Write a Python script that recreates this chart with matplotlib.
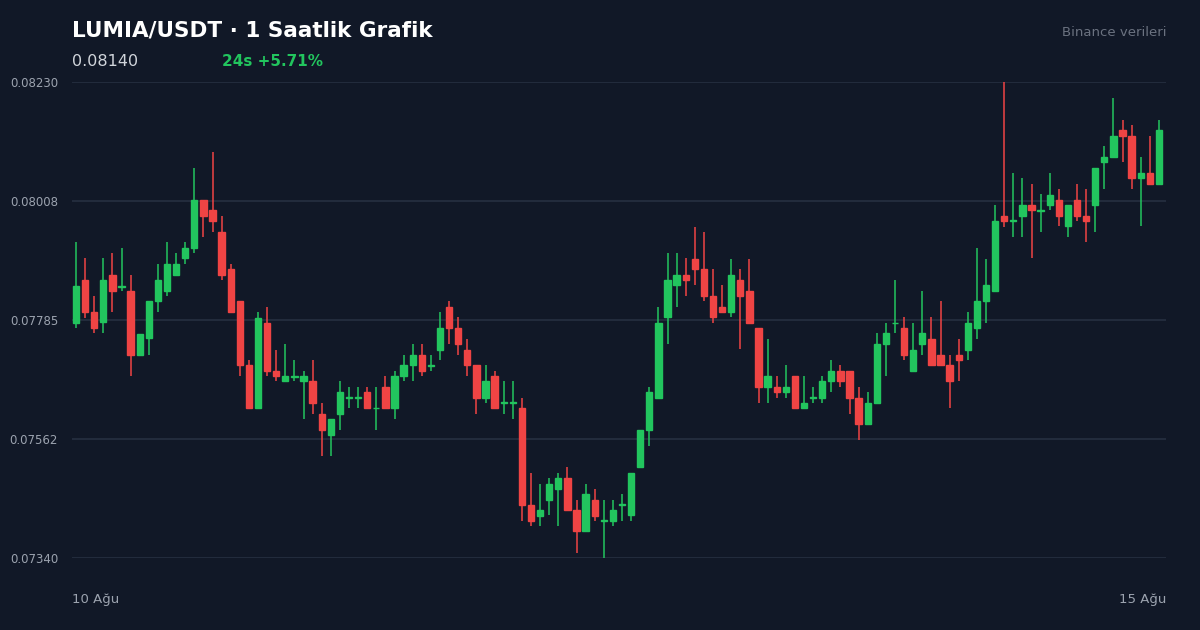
import matplotlib
matplotlib.use('Agg')
import matplotlib.pyplot as plt
from matplotlib.patches import Rectangle

opens = [.07779, .07860, .07800, .07781, .07869, .07846, .07839, .07719, .07751, .07820,
         .07839, .07869, .07901, .07920, .08009, .07991, .07950, .07880, .07820, .07701,
         .07620, .07779, .07690, .07671, .07678, .07671, .07671, .07609, .07570, .07609,
         .07639, .07639, .07650, .07620, .07660, .07620, .07680, .07701, .07719, .07699,
         .07729, .07809, .07770, .07729, .07701, .07639, .07680, .07630, .07630, .07620,
         .07439, .07418, .07448, .07469, .07490, .07430, .07390, .07448, .07409, .07409,
         .07439, .07420, .07510, .07579, .07639, .07791, .07850, .07869, .07899, .07880,
         .07830, .07809, .07800, .07860, .07839, .07770, .07660, .07660, .07650, .07680,
         .07620, .07639, .07639, .07671, .07690, .07690, .07639, .07590, .07630, .07740,
         .07779, .07770, .07690, .07740, .07750, .07719, .07701, .07719, .07729, .07770,
         .07820, .07839, .07980, .07970, .07980, .08000, .07989, .08000, .08009, .07961,
         .08009, .07980, .08000, .08080, .08090, .08140, .08129, .08050, .08060, .08039]
highs = [.07931, .07901, .07830, .07901, .07910, .07920, .07869, .07759, .07820, .07890,
         .07931, .07910, .07931, .08069, .08009, .08099, .07980, .07890, .07820, .07710,
         .07800, .07809, .07729, .07740, .07710, .07690, .07710, .07630, .07600, .07671,
         .07660, .07660, .07660, .07660, .07680, .07690, .07719, .07740, .07740, .07719,
         .07800, .07820, .07791, .07750, .07701, .07701, .07690, .07671, .07671, .07639,
         .07499, .07478, .07490, .07499, .07510, .07448, .07478, .07469, .07448, .07448,
         .07460, .07499, .07579, .07660, .07809, .07910, .07910, .07901, .07959, .07950,
         .07880, .07850, .07899, .07880, .07899, .07770, .07750, .07680, .07701, .07680,
         .07680, .07660, .07680, .07710, .07701, .07690, .07660, .07650, .07761, .07779,
         .07860, .07791, .07779, .07839, .07791, .07820, .07719, .07750, .07800, .07920,
         .07899, .08000, .08230, .08060, .08050, .08039, .08021, .08060, .08030, .08000,
         .08039, .08030, .08069, .08110, .08200, .08159, .08150, .08090, .08129, .08159]
lows = [.07770, .07789, .07761, .07761, .07800, .07839, .07680, .07719, .07719, .07800,
        .07830, .07869, .07890, .07910, .07940, .07950, .07860, .07800, .07680, .07620,
        .07620, .07680, .07671, .07671, .07671, .07600, .07609, .07531, .07531, .07579,
        .07620, .07620, .07620, .07579, .07620, .07600, .07671, .07671, .07680, .07690,
        .07710, .07740, .07719, .07680, .07609, .07630, .07620, .07609, .07600, .07409,
        .07400, .07400, .07420, .07400, .07430, .07349, .07390, .07409, .07340, .07400,
        .07409, .07409, .07510, .07549, .07639, .07740, .07809, .07830, .07850, .07820,
        .07779, .07800, .07791, .07731, .07779, .07630, .07630, .07639, .07639, .07620,
        .07620, .07630, .07630, .07650, .07660, .07609, .07561, .07590, .07630, .07680,
        .07761, .07710, .07690, .07719, .07701, .07701, .07620, .07671, .07710, .07750,
        .07779, .07839, .07959, .07940, .07940, .07901, .07950, .07991, .07961, .07940,
        .07970, .07931, .07950, .08030, .08090, .08080, .08030, .07961, .08039, .08039]
closes = [.07848, .07800, .07770, .07860, .07839, .07848, .07719, .07759, .07820, .07860,
          .07890, .07890, .07920, .08009, .07980, .07970, .07869, .07800, .07701, .07620,
          .07789, .07690, .07680, .07680, .07680, .07680, .07630, .07579, .07600, .07650,
          .07640, .07640, .07620, .07621, .07620, .07680, .07701, .07719, .07690, .07700,
          .07770, .07770, .07740, .07701, .07639, .07671, .07620, .07631, .07631, .07439,
          .07409, .07430, .07478, .07490, .07430, .07390, .07460, .07418, .07410, .07430,
          .07440, .07499, .07579, .07650, .07779, .07860, .07869, .07860, .07880, .07830,
          .07791, .07800, .07869, .07830, .07779, .07660, .07680, .07650, .07660, .07620,
          .07630, .07640, .07671, .07690, .07671, .07639, .07590, .07630, .07740, .07761,
          .07780, .07719, .07729, .07761, .07701, .07701, .07671, .07710, .07779, .07820,
          .07850, .07970, .07970, .07971, .08000, .07991, .07990, .08019, .07980, .08000,
          .07980, .07970, .08069, .08090, .08129, .08129, .08050, .08060, .08039, .08140]

y_ticks = [0.07340, 0.07562, 0.07785, 0.08008, 0.08230]

BG = '#111827'
GREEN = '#22c55e'
RED = '#ef4444'

fig = plt.figure(figsize=(12, 6.3), dpi=100, facecolor=BG)
ax = fig.add_axes([72/1200, 1-558/630, 1094/1200, 476/630], facecolor=BG)

for i, (o, h, l, c) in enumerate(zip(opens, highs, lows, closes)):
    col = GREEN if c >= o else RED
    ax.plot([i, i], [l, h], color=col, lw=1.1, solid_capstyle='butt', zorder=2)
    bottom = min(o, c)
    height = max(abs(c - o), 0.000012)
    ax.add_patch(Rectangle((i - 0.35, bottom), 0.7, height, color=col, zorder=3))

ax.set_xlim(-0.44, 119.78)
ax.set_ylim(0.07340, 0.08230)
ax.set_yticks(y_ticks)
ax.set_yticklabels([f'{v:.5f}' for v in y_ticks])
ax.tick_params(axis='y', length=0, pad=10, labelcolor='#9ca3af', labelsize=8.5)
ax.set_xticks([])
for v in y_ticks:
    ax.axhline(v, color='#263041', lw=1.2, zorder=1)
for s in ax.spines.values():
    s.set_visible(False)

fig.text(72/1200, 1-30/630, 'LUMIA/USDT · 1 Saatlik Grafik', color='white',
         fontsize=15.5, fontweight='bold', va='center')
fig.text(72/1200, 1-61/630, '0.08140', color='#d1d5db', fontsize=11.5, va='center')
fig.text(222/1200, 1-61/630, '24s +5.71%', color=GREEN, fontsize=11,
         fontweight='bold', va='center')
fig.text(1166/1200, 1-33/630, 'Binance verileri', color='#6b7280', fontsize=9.5,
         ha='right', va='center')
fig.text(72/1200, 1-599/630, '10 Ağu', color='#9ca3af', fontsize=9.5, va='center')
fig.text(1166/1200, 1-599/630, '15 Ağu', color='#9ca3af', fontsize=9.5,
         ha='right', va='center')

fig.savefig('out.png', dpi=100, facecolor=BG)
